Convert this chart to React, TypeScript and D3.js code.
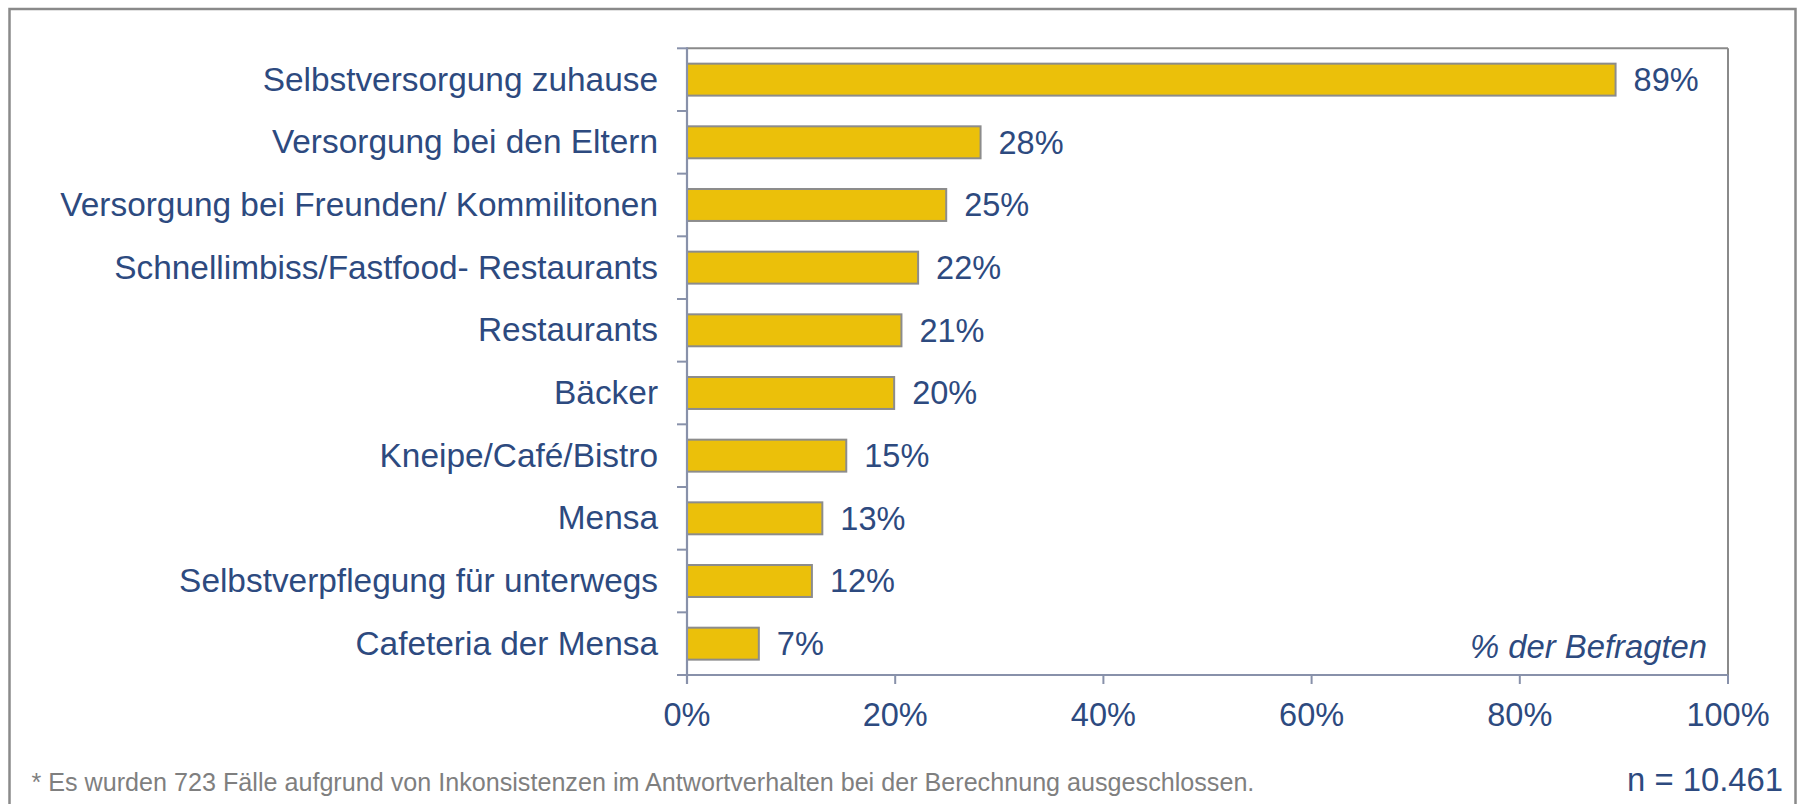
import React from "react";
import * as d3 from "d3";

const categories = [
  "Selbstversorgung zuhause",
  "Versorgung bei den Eltern",
  "Versorgung bei Freunden/ Kommilitonen",
  "Schnellimbiss/Fastfood- Restaurants",
  "Restaurants",
  "Bäcker",
  "Kneipe/Café/Bistro",
  "Mensa",
  "Selbstverpflegung für unterwegs",
  "Cafeteria der Mensa",
];
const values = [89.2, 28.2, 24.9, 22.2, 20.6, 19.9, 15.3, 13.0, 12.0, 6.9];
const xTicks = [0, 20, 40, 60, 80, 100];
const axisNote = "% der Befragten";
const footnote =
  "* Es wurden 723 Fälle aufgrund von Inkonsistenzen im Antwortverhalten bei der Berechnung ausgeschlossen.";
const sampleNote = "n = 10.461";

const W = 1798;
const H = 804;
const M = { left: 687, right: 1728, top: 48.3, bottom: 675 };
const TEXT = "#2d4a7f";
const AXIS = "#8891aa";
const FRAME = "#8a8a8a";
const BAR = "#ebc00a";
const FONT = "'Liberation Sans', Arial, Helvetica, sans-serif";

export default function App() {
  const x = d3.scaleLinear().domain([0, 100]).range([M.left, M.right]);
  const y = d3
    .scaleBand<string>()
    .domain(categories)
    .range([M.top, M.bottom])
    .paddingInner(0.49)
    .paddingOuter(0.245);
  const band = d3.scaleBand<string>().domain(categories).range([M.top, M.bottom]);
  const step = band.step();
  const boundaries = d3.range(categories.length + 1).map((i) => M.top + i * step);
  const pct = (v: number) => `${Math.round(v)}%`;

  return (
    <div style={{ position: "absolute", left: 0, top: 0 }}>
      <svg width={W} height={H} style={{ display: "block", fontFamily: FONT }}>
        <rect x={0} y={0} width={W} height={H} fill="#fff" />
        {/* outer frame */}
        <path d={`M9.5,${H + 2} V9 H1795.5 V${H + 2}`} fill="none" stroke={FRAME} strokeWidth={2.5} />

        {/* plot top/right border */}
        <line x1={M.left} x2={M.right} y1={M.top} y2={M.top} stroke={FRAME} strokeWidth={2} />
        <line x1={M.right} x2={M.right} y1={M.top} y2={M.bottom} stroke={FRAME} strokeWidth={2} />

        {/* bars */}
        {categories.map((c, i) => (
          <rect
            key={c}
            x={x(0)}
            y={y(c)}
            width={x(values[i]) - x(0)}
            height={y.bandwidth()}
            fill={BAR}
            stroke="#8c8c8c"
            strokeWidth={2}
          />
        ))}

        {/* y axis */}
        <line x1={M.left} x2={M.left} y1={M.top - 1} y2={M.bottom + 9} stroke={AXIS} strokeWidth={2.2} />
        {boundaries.map((b, i) => (
          <line key={i} x1={M.left - 10} x2={M.left} y1={b} y2={b} stroke={AXIS} strokeWidth={2} />
        ))}
        {/* x axis */}
        <line x1={M.left - 10} x2={M.right} y1={M.bottom} y2={M.bottom} stroke={AXIS} strokeWidth={2.2} />
        {xTicks.map((t) => (
          <g key={t}>
            <line x1={x(t)} x2={x(t)} y1={M.bottom} y2={M.bottom + 9} stroke={AXIS} strokeWidth={2} />
            <text x={x(t)} y={725.5} textAnchor="middle" fontSize={32.5} fill={TEXT}>
              {t}%
            </text>
          </g>
        ))}

        {/* category labels */}
        {categories.map((c) => (
          <text
            key={c}
            x={658}
            y={band(c)! + step / 2 + 11}
            textAnchor="end"
            fontSize={33.4}
            fill={TEXT}
          >
            {c}
          </text>
        ))}

        {/* value labels */}
        {categories.map((c, i) => (
          <text key={c} x={x(values[i]) + 18} y={band(c)! + step / 2 + 11.5} fontSize={32.5} fill={TEXT}>
            {pct(values[i])}
          </text>
        ))}

        <text x={1707} y={658} textAnchor="end" fontSize={32.8} fontStyle="italic" fill={TEXT}>
          {axisNote}
        </text>

        <text x={31.5} y={790.5} fontSize={25.15} fill="#7f7f7f">
          {footnote}
        </text>
        <text x={1783} y={791} textAnchor="end" fontSize={32.8} fill={TEXT}>
          {sampleNote}
        </text>
      </svg>
    </div>
  );
}
